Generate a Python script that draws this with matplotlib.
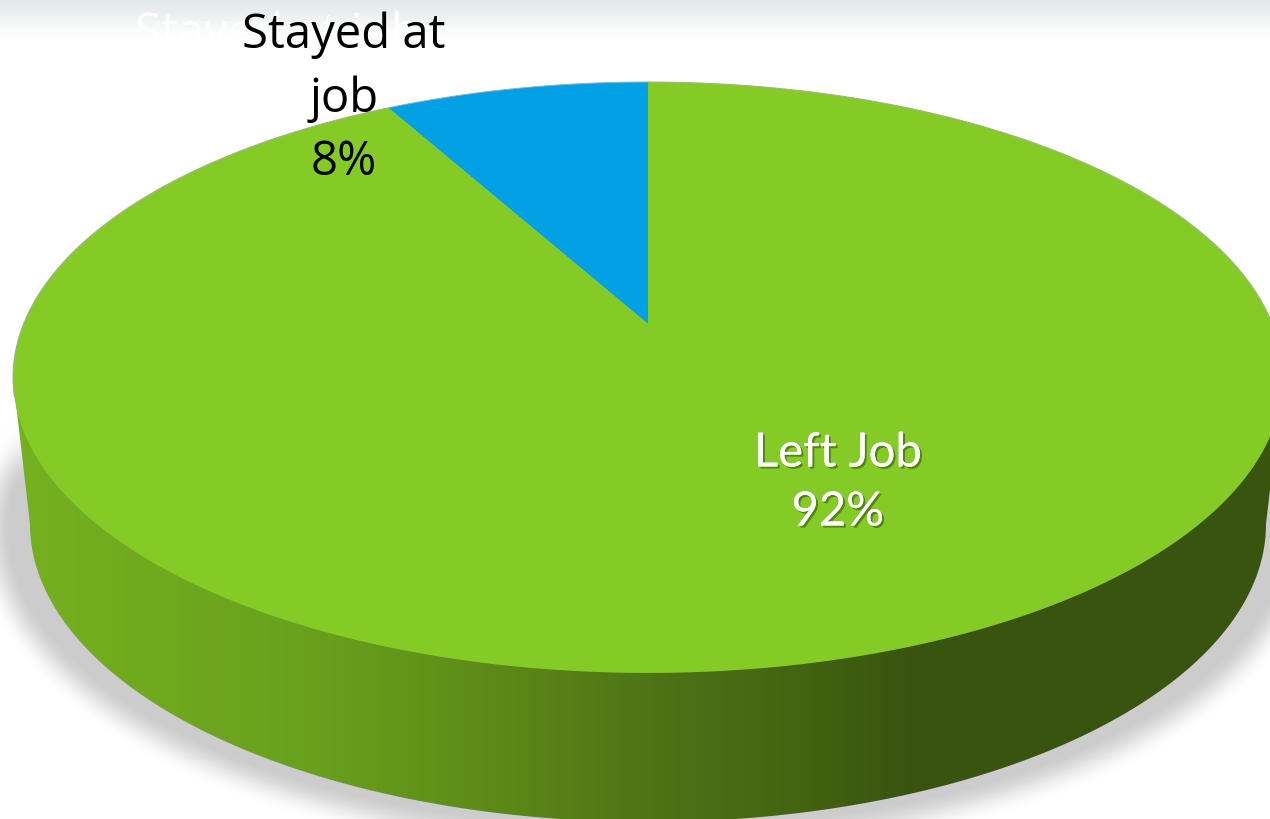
import matplotlib
matplotlib.use('Agg')
import matplotlib.pyplot as plt
import matplotlib.patheffects as pe
from matplotlib.colors import LinearSegmentedColormap
from matplotlib.patches import Polygon
import numpy as np

slice_labels = ['Left Job', 'Stayed at\njob']
slice_values = [92, 8]
slice_colors = ['#84CC25', '#00A0E4']
ghost_label = 'Stayed at job'

W, H = 1270, 820

# pie top is a circle seen in perspective, apex sits above the ellipse centre
APEX_X, APEX_Y = 648, 325
PERSP_K = 0.181
PERSP_A = 285.8
PERSP_C = 624.5

# lower rim of the pie
LOW_X, LOW_Y, LOW_RX, LOW_RY = 648, 525, 618, 298


def project(x, y):
    d = 1 + PERSP_K * y
    return APEX_X + PERSP_C * x / d, APEX_Y - PERSP_A * y / d


def wedge_xy(start_frac, end_frac):
    # fractions run clockwise from 12 o'clock
    t = np.linspace(start_frac, end_frac, 400) * 2 * np.pi
    px, py = project(np.sin(t), np.cos(t))
    return np.r_[APEX_X, px], np.r_[APEX_Y, py]


def smooth(v):
    v = np.clip(v, 0, 1)
    return v * v * (3 - 2 * v)


fig = plt.figure(figsize=(W / 100, H / 100), dpi=100, facecolor='white')
ax = fig.add_axes([0, 0, 1, 1])

xx, yy = np.meshgrid(np.arange(W) + 0.5, np.arange(H) + 0.5)

# top band of the slide
band = smooth(1 - yy / 42) * 0.085
# soft shadow below the pie
sx, sy = (xx - 648) / 636, (yy - 530) / 296
r2 = sx ** 2 + sy ** 2
grad = 2 * np.sqrt((sx / 636) ** 2 + (sy / 296) ** 2)
dist = (r2 - 1) / grad
shadow = 0.2 * smooth(1 - dist / 36) * smooth((yy - 410) / 80)
bg = 1 - np.maximum(band, shadow)
rgb = np.dstack([bg, bg, bg])
rgb[..., 0] -= band * 0.25
ax.imshow(rgb, extent=(0, W, H, 0), aspect='auto', zorder=0)

rim = np.linspace(0, 2 * np.pi, 800)
rim_x, rim_y = project(np.sin(rim), np.cos(rim))

# side of the pie: gradient clipped to the hull of both rims
t = np.linspace(0, np.pi, 400)
side_x = np.r_[rim_x.max(), LOW_X + LOW_RX * np.cos(t), rim_x.min()]
side_y = np.r_[rim_y[rim_x.argmax()], LOW_Y + LOW_RY * np.sin(t), rim_y[rim_x.argmin()]]
side = Polygon(np.c_[side_x, side_y], closed=True, transform=ax.transData, fc='none', ec='none')
ax.add_patch(side)
stops = [(0.0, '#75B220'), (0.25, '#68A01C'), (0.39, '#5C8A18'), (0.51, '#4E7416'),
         (0.63, '#436410'), (0.72, '#39540F'), (1.0, '#39540F')]
side_cmap = LinearSegmentedColormap.from_list('side', stops)
im = ax.imshow(np.linspace(0, 1, W)[None, :], extent=(0, W, H, 0), aspect='auto', cmap=side_cmap, zorder=1)
im.set_clip_path(side)

# top of the pie
total = sum(slice_values)
start = 0
for value, color in zip(slice_values, slice_colors):
    wx, wy = wedge_xy(start / total, (start + value) / total)
    ax.fill(wx, wy, color=color, lw=0, zorder=2)
    start += value

back = rim_y < 400
ax.plot(np.where(back, rim_x, np.nan), rim_y, color='#A8A8A8', lw=0.7, zorder=3)

# labels
ax.text(135, 47, ghost_label, color='white', fontsize=34, family='Open Sans',
        ha='left', va='baseline', zorder=4)
ax.text(344, 99, f'{slice_labels[1]}\n{slice_values[1]}%', color='black', fontsize=34,
        family='Open Sans', ha='center', va='center', linespacing=1.44, zorder=5)
lbl = ax.text(838, 484, f'{slice_labels[0]}\n{slice_values[0]}%', color='white', fontsize=34,
              family='Lato', ha='center', va='center', linespacing=1.5, zorder=5)
lbl.set_path_effects([pe.withSimplePatchShadow(offset=(1.5, -1.5), shadow_rgbFace='#2F4A0A', alpha=0.55),
                      pe.Normal()])

ax.set_xlim(0, W)
ax.set_ylim(H, 0)
ax.axis('off')

fig.savefig('out.png', dpi=100)
